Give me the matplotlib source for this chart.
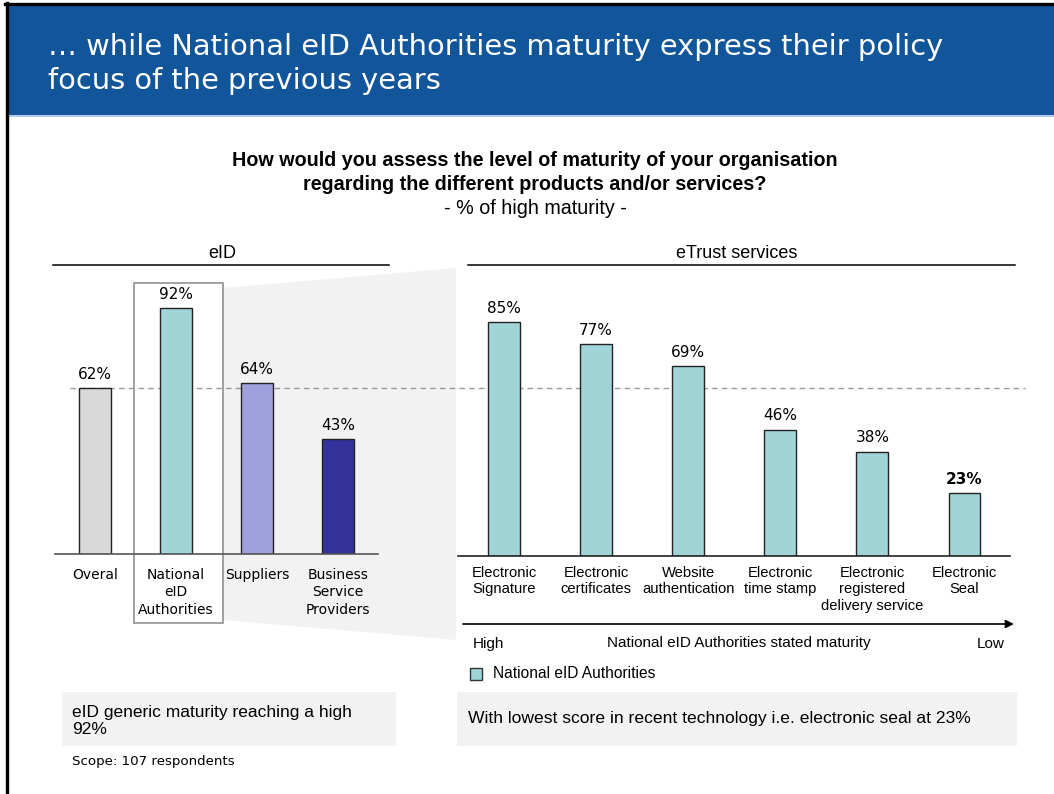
import matplotlib
matplotlib.use("Agg")
import matplotlib.pyplot as plt
from matplotlib.patches import Rectangle, Polygon
from matplotlib.lines import Line2D
from matplotlib.transforms import blended_transform_factory

# ---- data -------------------------------------------------------------
eid_categories = ["Overal", "National\neID\nAuthorities", "Suppliers",
                  "Business\nService\nProviders"]
eid_values = [62, 92, 64, 43]
eid_colors = ["#d9d9d9", "#a0d4d7", "#9f9fdc", "#333399"]

trust_categories = ["Electronic\nSignature", "Electronic\ncertificates",
                    "Website\nauthentication", "Electronic\ntime stamp",
                    "Electronic\nregistered\ndelivery service",
                    "Electronic\nSeal"]
trust_values = [85, 77, 69, 46, 38, 23]
trust_color = "#a0d4d7"

W, H = 1054, 794
fig = plt.figure(figsize=(W / 100, H / 100), dpi=100)

# full-page canvas in pixel units (y downwards) for the slide furniture
bg = fig.add_axes([0, 0, 1, 1], zorder=0)
bg.set_xlim(0, W)
bg.set_ylim(H, 0)
bg.axis("off")


def axes_box(left, right, base, top):
    return [left / W, 1 - base / H, (right - left) / W, (base - top) / H]


# header band
bg.add_patch(Rectangle((8, 5), W - 8, 110, facecolor="#11559a", edgecolor="none"))
bg.add_line(Line2D([8, W], [116, 116], color="#9dc3e6", lw=1.2))
bg.add_line(Line2D([6.5, 6.5], [3, H], color="black", lw=2.4))
bg.add_line(Line2D([5, W], [3.5, 3.5], color="black", lw=2.4))
bg.text(48, 47, "\u2026 while National eID Authorities maturity express their policy",
        color="white", fontsize=20.8, va="center", ha="left", family="DejaVu Sans")
bg.text(48, 81, "focus of the previous years",
        color="white", fontsize=20.8, va="center", ha="left", family="DejaVu Sans")

# question
bg.text(535, 160, "How would you assess the level of maturity of your organisation",
        fontsize=14.2, fontweight="bold", ha="center", va="center",
        family="Liberation Sans")
bg.text(535, 184, "regarding the different products and/or services?",
        fontsize=14.2, fontweight="bold", ha="center", va="center",
        family="Liberation Sans")
bg.text(535, 208, "- % of high maturity -", fontsize=14.2, ha="center",
        va="center", family="Liberation Sans")

# section headers
bg.text(222, 254, "eID", fontsize=13, ha="center", va="center", family="Liberation Sans")
bg.add_line(Line2D([53, 389], [265, 265], color="black", lw=1.1))
bg.text(737, 254, "eTrust services", fontsize=13, ha="center", va="center",
        family="Liberation Sans")
bg.add_line(Line2D([468, 1015], [265, 265], color="black", lw=1.1))

# zoom wedge from the highlighted bar to the detail chart
bg.add_patch(Polygon([(223, 288), (456, 268), (456, 640), (223, 620)],
                     closed=True, facecolor="#f2f2f2", edgecolor="none"))
bg.add_patch(Rectangle((134, 283), 89, 340, facecolor="white",
                       edgecolor="#9a9a9a", lw=1.3, zorder=1))

# ---- eID chart --------------------------------------------------------
axL = fig.add_axes(axes_box(55, 378, 554, 554 - 267.4), zorder=2)
axL.patch.set_alpha(0)
xL = range(len(eid_values))
axL.bar(xL, eid_values, width=0.395, color=eid_colors, edgecolor="#222222", lw=1)
axL.set_xlim(-0.494, 3.494)
axL.set_ylim(0, 100)
for i, v in enumerate(eid_values):
    axL.annotate(f"{v}%", (i, v), xytext=(0, 4.5), textcoords="offset points",
                 ha="center", va="bottom", fontsize=11, family="DejaVu Sans")
axL.set_xticks(list(xL))
axL.set_xticklabels(eid_categories, fontsize=10, family="DejaVu Sans",
                    linespacing=1.32)
axL.tick_params(axis="x", length=0, pad=10)
axL.set_yticks([])
for s in ["top", "right", "left"]:
    axL.spines[s].set_visible(False)
axL.spines["bottom"].set_color("#555555")
axL.spines["bottom"].set_linewidth(1.2)

# reference line at the overall level
ref = blended_transform_factory(bg.transData, axL.transData)
ln = Line2D([70, 1025], [eid_values[0], eid_values[0]], transform=ref,
            color="#999999", lw=1, ls=(0, (4, 3)), zorder=1)
bg.add_line(ln)

# ---- eTrust chart -----------------------------------------------------
axR = fig.add_axes(axes_box(458, 1010, 556, 556 - 275), zorder=2)
axR.patch.set_alpha(0)
xR = range(len(trust_values))
axR.bar(xR, trust_values, width=0.347, color=trust_color, edgecolor="#222222", lw=1)
axR.set_xlim(-0.4995, 5.494)
axR.set_ylim(0, 100)
for i, v in enumerate(trust_values):
    axR.annotate(f"{v}%", (i, v), xytext=(0, 4.5), textcoords="offset points",
                 ha="center", va="bottom", fontsize=11, family="DejaVu Sans",
                 fontweight="bold" if v == min(trust_values) else "normal")
axR.set_xticks(list(xR))
axR.set_xticklabels(trust_categories, fontsize=10.6, family="Liberation Sans",
                    linespacing=1.22)
axR.tick_params(axis="x", length=0, pad=7)
axR.set_yticks([])
for s in ["top", "right", "left"]:
    axR.spines[s].set_visible(False)
axR.spines["bottom"].set_color("#222222")
axR.spines["bottom"].set_linewidth(1.2)

# maturity arrow
bg.annotate("", xy=(1014, 624), xytext=(463, 624),
            arrowprops=dict(arrowstyle="-|>", color="black", lw=1.2,
                            mutation_scale=12, shrinkA=0, shrinkB=0))
bg.text(473, 644, "High", fontsize=11, ha="left", va="center", family="Liberation Sans")
bg.text(739, 643, "National eID Authorities stated maturity", fontsize=11,
        ha="center", va="center", family="Liberation Sans")
bg.text(1005, 644, "Low", fontsize=11, ha="right", va="center", family="Liberation Sans")

# legend
bg.add_patch(Rectangle((470, 668), 12, 12, facecolor=trust_color,
                       edgecolor="#333333", lw=1))
bg.text(493, 674, "National eID Authorities", fontsize=11.2, ha="left",
        va="center", family="Liberation Sans")

# takeaway boxes
bg.add_patch(Rectangle((62, 692), 334, 54, facecolor="#f2f2f2", edgecolor="none"))
bg.text(72, 721, "eID generic maturity reaching a high\n92%", fontsize=12.5,
        ha="left", va="center", family="Liberation Sans", linespacing=1.12)
bg.add_patch(Rectangle((457, 692), 560, 54, facecolor="#f2f2f2", edgecolor="none"))
bg.text(468, 718, "With lowest score in recent technology i.e. electronic seal at 23%",
        fontsize=12.6, ha="left", va="center", family="Liberation Sans")
bg.text(72, 762, "Scope: 107 respondents", fontsize=9.6, ha="left", va="center",
        family="DejaVu Sans")

fig.savefig("out.png", dpi=100)
